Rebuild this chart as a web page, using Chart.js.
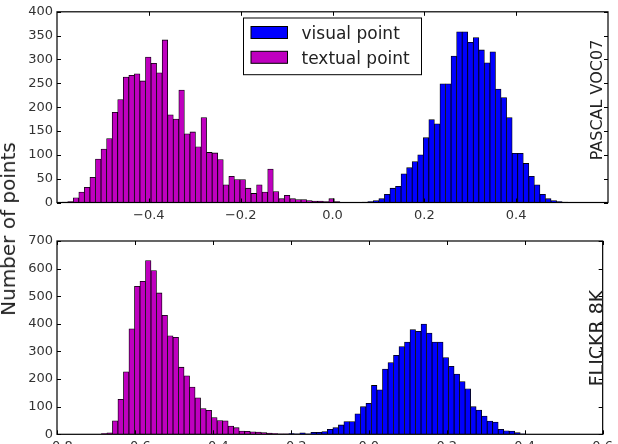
<!DOCTYPE html>
<html>
<head>
<meta charset="utf-8">
<script src="https://cdn.jsdelivr.net/npm/chart.js@4.4.1/dist/chart.umd.min.js"></script>
<style>
  html, body { margin: 0; padding: 0; background: #fff; overflow: hidden; }
  #wrap { position: relative; width: 618px; height: 444px; overflow: hidden; }
  .panel { position: absolute; left: 0; width: 618px; }
  #topPanel { top: 0; height: 222px; }
  #botPanel { top: 222px; height: 240px; }
  #ylab {
    position: absolute; left: 8px; top: 229px;
    font: 20px "DejaVu Sans"; line-height: 20px; color: #222; white-space: nowrap;
    transform: translate(-50%, -50%) rotate(-90deg);
  }
</style>
</head>
<body>
<div id="wrap">
  <div class="panel" id="topPanel"><canvas id="vocChart"></canvas></div>
  <div class="panel" id="botPanel"><canvas id="flickrChart"></canvas></div>
  <div id="ylab">Number of points</div>
</div>
<script>
// histogram bin grid of each panel: left edge of bin 0 and bin width
const vocBinStart = -0.5888;
const vocBinWidth = 0.0121;
const flickrBinStart = -0.6861;
const flickrBinWidth = 0.01414;

// index of the first bin of each series in its panel's grid
const vocTextualFirst = 0;
const vocVisualFirst = 54;
const flickrTextualFirst = 0;
const flickrVisualFirst = 34;

// counts per bin
const vocTextual = [1, 2, 10, 22, 32, 53, 91, 112, 134, 189, 216, 263, 267, 270, 255, 305, 292, 272, 341,
  184, 175, 236, 144, 148, 117, 178, 105, 104, 90, 37, 55, 48, 48, 30, 19, 37, 22, 70, 23, 8, 15, 8,
  6, 6, 4, 3, 3, 2, 8, 2];
const vocVisual = [1, 2, 4, 8, 17, 30, 34, 60, 73, 86, 100, 136, 174, 165, 249, 249, 307, 358, 358, 336,
  346, 320, 293, 316, 238, 220, 178, 103, 103, 82, 55, 37, 17, 8, 4, 2, 1];
const flickrTextual = [3, 5, 49, 127, 226, 382, 536, 554, 629, 593, 512, 431, 357, 351, 243, 212, 171,
  132, 93, 87, 61, 50, 49, 30, 24, 12, 11, 9, 8, 6, 4, 3, 2, 2];
const flickrVisual = [3, 2, 5, 2, 7, 7, 10, 18, 24, 34, 46, 46, 74, 100, 112, 177, 161, 236, 260, 286,
  318, 334, 379, 373, 399, 367, 334, 334, 278, 246, 218, 191, 165, 100, 88, 66, 48, 44, 18, 13, 12, 6, 2];

// axis ticks
const vocXTicks = [-0.4, -0.2, 0.0, 0.2, 0.4];
const vocYTicks = [0, 50, 100, 150, 200, 250, 300, 350, 400];
const flickrXTicks = [-0.8, -0.6, -0.4, -0.2, 0.0, 0.2, 0.4, 0.6];
const flickrYTicks = [0, 100, 200, 300, 400, 500, 600, 700];

const seriesNames = ['visual point', 'textual point'];
const seriesColors = ['#0000ff', '#bf00bf'];

function toBins(counts, first, start, width) {
  return counts.map((c, i) => ({ x: +(start + (first + i + 0.5) * width).toFixed(6), y: c }));
}

function fmtTick(v) {
  if (Math.abs(v) < 1e-9) return '0.0';
  return (v < 0 ? '\u2212' : '') + Math.abs(v).toFixed(1);
}

// black frame round the plot + inward tick marks on all four sides
const panelFrame = {
  id: 'panelFrame',
  afterDatasetsDraw(chart) {
    const { ctx, chartArea: a, scales: { x, y } } = chart;
    ctx.save();
    ctx.strokeStyle = '#000';
    ctx.lineWidth = 1;
    ctx.beginPath();
    x.ticks.forEach(t => {
      const px = Math.round(x.getPixelForValue(t.value)) + 0.5;
      ctx.moveTo(px, a.bottom); ctx.lineTo(px, a.bottom - 4);
      ctx.moveTo(px, a.top); ctx.lineTo(px, a.top + 4);
    });
    y.ticks.forEach(t => {
      const py = Math.round(y.getPixelForValue(t.value)) + 0.5;
      ctx.moveTo(a.left, py); ctx.lineTo(a.left + 4, py);
      ctx.moveTo(a.right, py); ctx.lineTo(a.right - 4, py);
    });
    ctx.stroke();
    ctx.lineWidth = 1.2;
    ctx.strokeRect(a.left, a.top, a.right - a.left, a.bottom - a.top);
    ctx.restore();
  }
};

// rotated dataset name on the right inside the plot
const sideLabel = {
  id: 'sideLabel',
  afterDraw(chart, args, o) {
    if (!o.text) return;
    const ctx = chart.ctx;
    ctx.save();
    ctx.translate(o.x, o.y);
    ctx.rotate(-Math.PI / 2);
    ctx.font = o.size + 'px "DejaVu Sans"';
    ctx.fillStyle = '#222';
    ctx.textAlign = 'center';
    ctx.textBaseline = 'alphabetic';
    ctx.fillText(o.text, 0, 0);
    ctx.restore();
  }
};

// framed legend like matplotlib's
const boxLegend = {
  id: 'boxLegend',
  afterDraw(chart, args, o) {
    if (!o.show) return;
    const ctx = chart.ctx;
    ctx.save();
    ctx.fillStyle = '#fff';
    ctx.fillRect(o.left, o.top, o.width, o.height);
    ctx.strokeStyle = '#000';
    ctx.lineWidth = 1;
    ctx.strokeRect(o.left, o.top, o.width, o.height);
    ctx.font = '17px "DejaVu Sans"';
    ctx.textBaseline = 'alphabetic';
    chart.data.datasets.forEach((ds, i) => {
      const cy = o.top + 14.5 + i * 24.8;
      ctx.fillStyle = ds.backgroundColor;
      ctx.fillRect(o.left + 7.5, cy - 6, 36.5, 12);
      ctx.strokeRect(o.left + 7.5, cy - 6, 36.5, 12);
      ctx.fillStyle = '#222';
      ctx.fillText(ds.label, o.left + 58, cy + 6.3);
    });
    ctx.restore();
  }
};

function makeChart(id, p) {
  const tickFont = { family: 'DejaVu Sans', size: 13 };
  return new Chart(document.getElementById(id), {
    type: 'bar',
    data: {
      datasets: [
        { label: seriesNames[0], data: p.visual, backgroundColor: seriesColors[0] },
        { label: seriesNames[1], data: p.textual, backgroundColor: seriesColors[1] }
      ]
    },
    options: {
      responsive: true,
      maintainAspectRatio: false,
      animation: false,
      layout: { padding: p.padding },
      datasets: {
        bar: {
          barPercentage: 1,
          categoryPercentage: 1,
          grouped: false,
          borderColor: '#000',
          borderWidth: 0.8
        }
      },
      scales: {
        x: {
          type: 'linear',
          min: p.xMin,
          max: p.xMax,
          offset: false,
          grid: { display: false, drawTicks: false, offset: false },
          border: { display: false },
          afterBuildTicks: s => { s.ticks = p.xTicks.map(v => ({ value: v })); },
          afterFit: s => { s.height = p.xAxisHeight; },
          ticks: { padding: 5, color: '#333', font: tickFont, maxRotation: 0, autoSkip: false, callback: v => fmtTick(v) }
        },
        y: {
          min: 0,
          max: p.yMax,
          grid: { display: false, drawTicks: false },
          border: { display: false },
          afterBuildTicks: s => { s.ticks = p.yTicks.map(v => ({ value: v })); },
          afterFit: s => { s.width = 57; },
          ticks: { padding: 4, color: '#333', font: tickFont, autoSkip: false }
        }
      },
      plugins: {
        legend: { display: false },
        tooltip: { enabled: false },
        sideLabel: p.side,
        boxLegend: p.legend
      }
    },
    plugins: [panelFrame, sideLabel, boxLegend]
  });
}

makeChart('vocChart', {
  visual: toBins(vocVisual, vocVisualFirst, vocBinStart, vocBinWidth),
  textual: toBins(vocTextual, vocTextualFirst, vocBinStart, vocBinWidth),
  xMin: -0.6, xMax: 0.6, yMax: 400,
  xTicks: vocXTicks, yTicks: vocYTicks,
  padding: { left: 0, right: 10, top: 10, bottom: 0 },
  xAxisHeight: 19.5,
  side: { text: 'PASCAL VOC07', size: 16, x: 601.5, y: 100 },
  legend: { show: true, left: 243.5, top: 18, width: 178, height: 56.7 }
});

makeChart('flickrChart', {
  visual: toBins(flickrVisual, flickrVisualFirst, flickrBinStart, flickrBinWidth),
  textual: toBins(flickrTextual, flickrTextualFirst, flickrBinStart, flickrBinWidth),
  xMin: -0.8, xMax: 0.6, yMax: 700,
  xTicks: flickrXTicks, yTicks: flickrYTicks,
  padding: { left: 0, right: 10, top: 19, bottom: 0 },
  xAxisHeight: 27.7,
  side: { text: 'FLICKR 8K', size: 19, x: 603, y: 116 },
  legend: { show: false }
});
</script>
</body>
</html>
